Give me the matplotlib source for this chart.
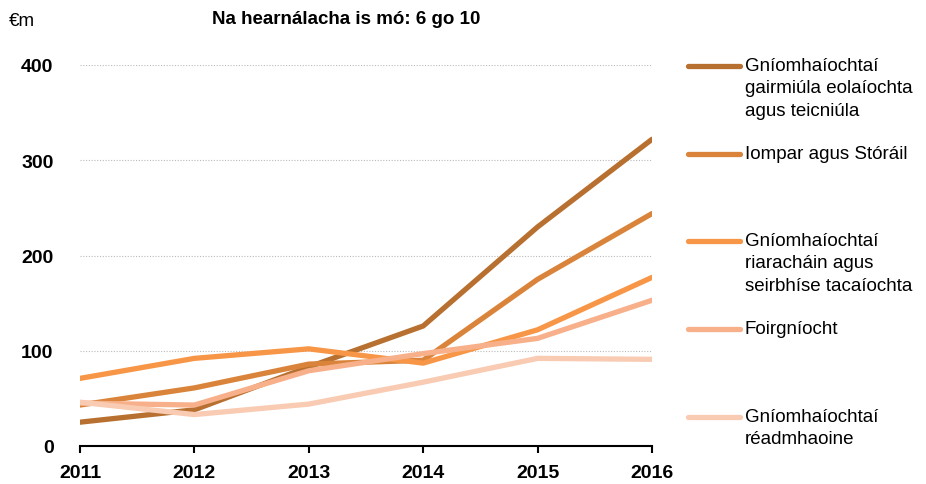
import matplotlib
matplotlib.use("Agg")
import matplotlib.pyplot as plt
from matplotlib.lines import Line2D

years = [2011, 2012, 2013, 2014, 2015, 2016]
series_names = [
    "Gníomhaíochtaí\ngairmiúla eolaíochta\nagus teicniúla",
    "Iompar agus Stóráil",
    "Gníomhaíochtaí\nriaracháin agus\nseirbhíse tacaíochta",
    "Foirgníocht",
    "Gníomhaíochtaí\nréadmhaoine",
]
s_gairmiula = [25, 38, 83, 126, 230, 322]
s_iompar = [43, 61, 86, 90, 175, 244]
s_riarachain = [71, 92, 102, 87, 122, 177]
s_foirgniocht = [45, 43, 79, 97, 113, 153]
s_readmhaoine = [46, 33, 44, 67, 92, 91]
series_values = [s_gairmiula, s_iompar, s_riarachain, s_foirgniocht, s_readmhaoine]
colors = ["#B87030", "#D9843A", "#F79646", "#F7B08A", "#F8CBB2"]
yticks = [0, 100, 200, 300, 400]

plt.rcParams["font.family"] = ["Liberation Sans", "DejaVu Sans"]

fig = plt.figure(figsize=(9.26, 4.85), dpi=100)
ax = fig.add_axes([80/926, 1-447/485, (652-80)/926, (447-66)/485])

for vals, c in zip(series_values, colors):
    ax.plot(years, vals, color=c, lw=3.8, solid_capstyle="round", zorder=3)

ax.set_xlim(2011, 2016)
ax.set_ylim(0, 400)
ax.set_yticks(yticks)
ax.set_xticks(years)
for y in yticks[1:]:
    ax.axhline(y, color="#BBBBBB", lw=0.8, ls=(0, (1, 1.5)), zorder=1)
for s in ["top", "right", "left"]:
    ax.spines[s].set_visible(False)
ax.spines["bottom"].set_linewidth(1.5)
ax.tick_params(axis="y", length=0, labelsize=14, pad=19)
ax.tick_params(axis="x", length=5, width=1.5, direction="out", labelsize=14, pad=8)
for lab in ax.get_xticklabels() + ax.get_yticklabels():
    lab.set_fontweight("bold")

fig.text(346/926, 1-20/485, "Na hearnálacha is mó: 6 go 10", ha="center", va="center",
         fontsize=13.5, fontweight="bold")
fig.text(9/926, 1-21/485, "€m", ha="left", va="center", fontsize=13.5)

legend_y = [67, 155, 242, 330, 418]
for name, c, ly in zip(series_names, colors, legend_y):
    yf = 1 - ly/485
    fig.add_artist(Line2D([688/926, 740/926], [yf, yf], color=c, lw=3.8,
                          solid_capstyle="round", transform=fig.transFigure))
    fig.text(745/926, yf + 9/485, name, ha="left", va="top", fontsize=13.5,
             linespacing=1.42)

fig.savefig("out.png", dpi=100)
